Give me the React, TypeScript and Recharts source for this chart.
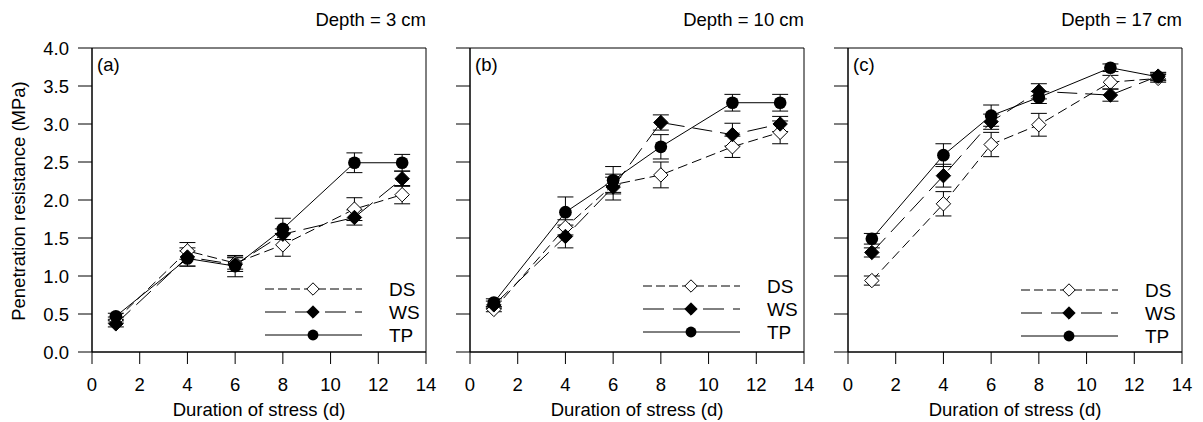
import React from 'react';
import { LineChart, Line, XAxis, YAxis, ErrorBar, ReferenceArea, Legend } from 'recharts';

// sampling days (x)
const days = [1, 4, 6, 8, 11, 13];

// depth 3 cm
const dsA = [0.42, 1.33, 1.17, 1.41, 1.88, 2.07];
const dsAErr = [0.04, 0.11, 0.08, 0.15, 0.15, 0.12];
const wsA = [0.37, 1.25, 1.15, 1.55, 1.77, 2.28];
const wsAErr = [0.04, 0.12, 0.09, 0.07, 0.1, 0.1];
const tpA = [0.47, 1.23, 1.13, 1.62, 2.49, 2.49];
const tpAErr = [0.04, 0.1, 0.14, 0.14, 0.13, 0.11];

// depth 10 cm
const dsB = [0.56, 1.64, 2.2, 2.33, 2.7, 2.89];
const dsBErr = [0.03, 0.1, 0.1, 0.17, 0.14, 0.15];
const wsB = [0.62, 1.52, 2.17, 3.02, 2.86, 3.0];
const wsBErr = [0.05, 0.15, 0.17, 0.1, 0.15, 0.1];
const tpB = [0.65, 1.84, 2.26, 2.7, 3.28, 3.28];
const tpBErr = [0.05, 0.2, 0.18, 0.16, 0.11, 0.11];

// depth 17 cm
const dsC = [0.94, 1.95, 2.73, 2.99, 3.55, 3.6];
const dsCErr = [0.06, 0.16, 0.16, 0.15, 0.09, 0.05];
const wsC = [1.31, 2.32, 3.03, 3.43, 3.38, 3.63];
const wsCErr = [0.06, 0.15, 0.1, 0.1, 0.08, 0.05];
const tpC = [1.49, 2.59, 3.11, 3.35, 3.74, 3.62];
const tpCErr = [0.07, 0.15, 0.14, 0.08, 0.05, 0.05];

const xTicks = [0, 2, 4, 6, 8, 10, 12, 14];
const yTicks = [0, 0.5, 1, 1.5, 2, 2.5, 3, 3.5, 4];

const FONT = '"Liberation Sans", Arial, Helvetica, sans-serif';
const FS = 18.5;

type Shape = 'openDiamond' | 'diamond' | 'circle';

const series: { key: 'ds' | 'ws' | 'tp'; name: string; dash?: string; legendDash?: string; shape: Shape }[] = [
  { key: 'ds', name: 'DS', dash: '10 5', legendDash: '9 4', shape: 'openDiamond' },
  { key: 'ws', name: 'WS', dash: '20 8', legendDash: '21 9', shape: 'diamond' },
  { key: 'tp', name: 'TP', shape: 'circle' },
];

const marker = (shape: Shape, cx: number, cy: number, size: number, key?: string) => {
  if (shape === 'circle') {
    return <circle key={key} cx={cx} cy={cy} r={size * 0.88} fill="#000" />;
  }
  const pts = `${cx},${cy - size} ${cx + size},${cy} ${cx},${cy + size} ${cx - size},${cy}`;
  return (
    <polygon
      key={key}
      points={pts}
      fill={shape === 'diamond' ? '#000' : '#fff'}
      stroke="#000"
      strokeWidth={1}
    />
  );
};

const dotFor = (shape: Shape) => (props: any) => {
  const { cx, cy, index } = props;
  if (cx == null || cy == null) return <g key={`e-${index}`} />;
  return marker(shape, cx, cy, 7.2, `${shape}-${index}`);
};

interface PanelProps {
  tag: string;
  depth: string;
  ds: number[];
  dsErr: number[];
  ws: number[];
  wsErr: number[];
  tp: number[];
  tpErr: number[];
  left: number;
  legendTop: number;
  showYLabels: boolean;
}

const Panel: React.FC<PanelProps> = ({ tag, depth, ds, dsErr, ws, wsErr, tp, tpErr, left, legendTop, showYLabels }) => {
  const data = days.map((d, i) => ({
    day: d,
    ds: ds[i],
    dsErr: dsErr[i],
    ws: ws[i],
    wsErr: wsErr[i],
    tp: tp[i],
    tpErr: tpErr[i],
  }));

  const renderLegend = () => (
    <svg width={180} height={72} style={{ display: 'block', overflow: 'visible' }}>
      {series.map((s, i) => {
        const y = 12 + i * 23;
        return (
          <g key={s.key}>
            <line x1={3} x2={100} y1={y} y2={y} stroke="#000" strokeWidth={1} strokeDasharray={s.legendDash} />
            {marker(s.shape, 51, y, 6.2)}
            <text x={127} y={y + 7} fontSize={19} fontFamily={FONT} fill="#000">
              {s.name}
            </text>
          </g>
        );
      })}
    </svg>
  );

  return (
    <div style={{ position: 'absolute', left, top: 0 }}>
      <LineChart width={440} height={422} data={data} margin={{ top: 48, right: 14, bottom: 0, left: 0 }}>
        <ReferenceArea x1={0} x2={14} y1={0} y2={4} fill="none" stroke="#000" strokeWidth={1} ifOverflow="visible" />
        <XAxis
          type="number"
          dataKey="day"
          domain={[0, 14]}
          ticks={xTicks}
          height={70}
          tickSize={12}
          tickMargin={14}
          stroke="#000"
          tick={{ fill: '#000', fontSize: FS, fontFamily: FONT }}
          label={{ value: 'Duration of stress (d)', position: 'insideBottom', offset: 6, fill: '#000', fontSize: FS, fontFamily: FONT }}
        />
        <YAxis
          type="number"
          domain={[0, 4]}
          ticks={yTicks}
          width={92}
          tickSize={14}
          tickMargin={9}
          stroke="#000"
          tickFormatter={(v: number) => (showYLabels ? v.toFixed(1) : '')}
          tick={{ fill: '#000', fontSize: FS, fontFamily: FONT }}
          label={
            showYLabels
              ? {
                  content: () => (
                    <text
                      transform="translate(25 201) rotate(-90)"
                      textAnchor="middle"
                      fontSize={FS}
                      fontFamily={FONT}
                      fill="#000"
                    >
                      Penetration resistance (MPa)
                    </text>
                  ),
                }
              : undefined
          }
        />
        {series.map((s) => (
          <Line
            key={s.key}
            type="linear"
            dataKey={s.key}
            name={s.name}
            stroke="#000"
            strokeWidth={1}
            strokeDasharray={s.dash}
            dot={dotFor(s.shape)}
            activeDot={false}
            isAnimationActive={false}
          >
            <ErrorBar dataKey={`${s.key}Err`} width={8} stroke="#000" strokeWidth={1} direction="y" />
          </Line>
        ))}
        <Legend
          layout="horizontal"
          verticalAlign="middle"
          align="center"
          content={renderLegend}
          wrapperStyle={{ left: 262, top: legendTop, width: 180, height: 72 }}
        />
        <text x={426} y={26} textAnchor="end" fontSize={FS} fontFamily={FONT} fill="#000">
          {depth}
        </text>
        <text x={97} y={71} fontSize={FS} fontFamily={FONT} fill="#000">
          {tag}
        </text>
      </LineChart>
    </div>
  );
};

const App: React.FC = () => {
  return (
    <div style={{ position: 'absolute', left: 0, top: 0, width: 1203, height: 422, background: '#fff', fontFamily: FONT }}>
      <Panel tag="(a)" depth="Depth = 3 cm" ds={dsA} dsErr={dsAErr} ws={wsA} wsErr={wsAErr} tp={tpA} tpErr={tpAErr} left={0} legendTop={277} showYLabels />
      <Panel tag="(b)" depth="Depth = 10 cm" ds={dsB} dsErr={dsBErr} ws={wsB} wsErr={wsBErr} tp={tpB} tpErr={tpBErr} left={378} legendTop={274} showYLabels={false} />
      <Panel tag="(c)" depth="Depth = 17 cm" ds={dsC} dsErr={dsCErr} ws={wsC} wsErr={wsCErr} tp={tpC} tpErr={tpCErr} left={756} legendTop={278} showYLabels={false} />
    </div>
  );
};

export default App;
